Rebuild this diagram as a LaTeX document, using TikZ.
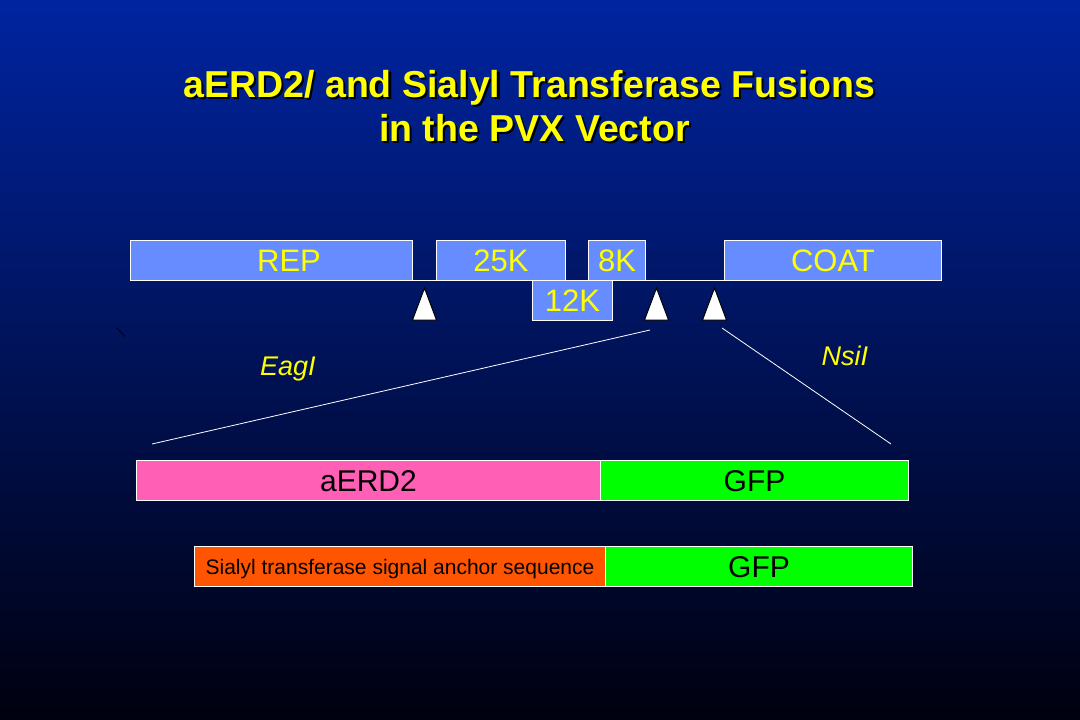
\documentclass[tikz,border=0pt]{standalone}
\usepackage{fontspec}
\setmainfont{Liberation Sans}
\definecolor{bgtop}{RGB}{0,36,160}
\definecolor{bgmid}{RGB}{0,22,95}
\definecolor{bgbot}{RGB}{0,0,14}
\definecolor{geneblue}{RGB}{102,140,255}
\definecolor{erdpink}{RGB}{255,95,180}
\definecolor{gfpgreen}{RGB}{0,255,0}
\definecolor{sialorange}{RGB}{255,85,0}
\definecolor{titleyellow}{RGB}{255,255,0}
\newcommand{\shadowtext}[1]{\makebox[0pt][l]{\hspace*{2.2pt}\raisebox{-2.5pt}{\textcolor{black}{#1}}}#1}
\tikzset{
  gene/.style={draw=white, line width=1pt, fill=geneblue, text=titleyellow,
    font=\fontsize{31}{31}\selectfont, minimum height=40pt, inner sep=0pt,
    anchor=north west, text height=22.2pt, text depth=0pt},
  fusion/.style={draw=white, line width=1pt, text=black,
    font=\fontsize{30}{30}\selectfont, minimum height=40pt, inner sep=0pt,
    anchor=north west, text height=21.5pt, text depth=0pt},
  site/.style={fill=white, draw=black, line width=1pt, line join=miter},
  cutline/.style={draw=white, line width=0.8pt},
  enzyme/.style={text=titleyellow, font=\itshape\fontsize{27}{27}\selectfont,
    anchor=base west, inner sep=0pt},
  titletext/.style={font=\bfseries\fontsize{37.5}{37.5}\selectfont, anchor=base,
    inner sep=0pt, text=titleyellow}
}
\begin{document}
\begin{tikzpicture}[x=1pt,y=-1pt]
  % background
  \shade[top color=bgtop, middle color=bgmid, bottom color=bgbot] (0,0) rectangle (1080,720);
  \useasboundingbox (0,0) rectangle (1080,720);

  % title with shadow
  \node[titletext] (t1) at (529.5,97) {\shadowtext{aERD2/ and Sialyl Transferase Fusions}};
  \node[titletext] (t2) at (534.5,141) {\shadowtext{in the PVX Vector}};

  % genome baseline
  \coordinate (base1) at (412,280);
  \coordinate (base2) at (724,280);
  \draw[white, line width=1pt] (base1) -- (base2);

  % genome boxes
  \node[gene, minimum width=282pt] (rep) at (130,240) {\hspace*{35pt}REP};
  \node[gene, minimum width=129pt] (k25) at (436,240) {25K};
  \node[gene, minimum width=80pt] (k12) at (532,280) {12K};
  \node[gene, minimum width=57pt] (k8) at (588,240) {8K};
  \node[gene, minimum width=217pt] (coat) at (724,240) {COAT};

  % restriction sites
  \coordinate (s1) at (424.5,288);
  \coordinate (s2) at (656.5,288);
  \coordinate (s3) at (714.5,288);
  \foreach \s in {s1,s2,s3}
    \draw[site] (\s) -- ++(12,32) -- ++(-24,0) -- cycle;

  % expansion lines
  \coordinate (l1a) at (650,330);
  \coordinate (l1b) at (152,444);
  \coordinate (l2a) at (722,328);
  \coordinate (l2b) at (891,444);
  \draw[cutline] (l1a) -- (l1b);
  \draw[cutline] (l2a) -- (l2b);

  % enzyme labels
  \node[enzyme] (eag) at (260,375.5) {EagI};
  \node[enzyme] (nsi) at (821.5,365.5) {NsiI};

  % stray mark
  \coordinate (m1) at (117,328);
  \coordinate (m2) at (125,336.5);
  \draw[black, line width=0.8pt] (m1) -- (m2);

  % fusion constructs
  \node[fusion, fill=erdpink, minimum width=464pt] (erd) at (136,460) {aERD2};
  \node[fusion, fill=gfpgreen, minimum width=308pt] (gfp1) at (600,460) {GFP};
  \node[fusion, fill=sialorange, minimum width=411pt, font=\fontsize{21}{21}\selectfont, text height=15pt] (sia) at (194,546) {Sialyl transferase signal anchor sequence};
  \node[fusion, fill=gfpgreen, minimum width=307pt] (gfp2) at (605,546) {GFP};
\end{tikzpicture}
\end{document}
